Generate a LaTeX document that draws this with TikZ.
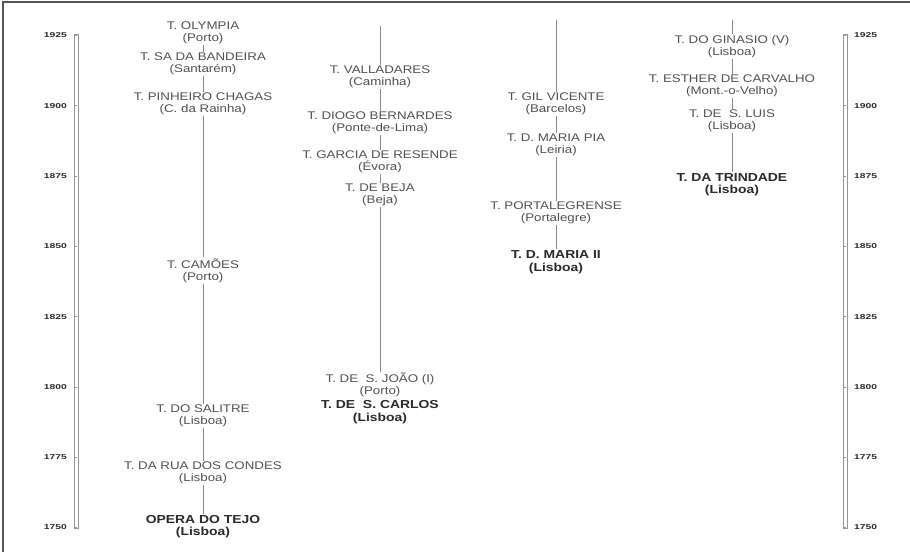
\documentclass[tikz,border=0pt]{standalone}
\usepackage{fontspec}
\setmainfont[FakeStretch=1.2]{Liberation Sans}
\newfontfamily\anofont[FakeStretch=1.45]{Liberation Sans}
\definecolor{txt}{HTML}{505050}
\definecolor{bld}{HTML}{2A2A2A}
\definecolor{ln}{HTML}{8A8A8A}
\definecolor{frm}{HTML}{555555}
\tikzset{
  teatro/.style={align=center, inner sep=1.2pt, text=txt, font=\fontsize{11.1}{12}\selectfont},
  principal/.style={align=center, inner sep=1.2pt, text=bld, font=\fontsize{11.6}{12.5}\selectfont\bfseries},
  ano/.style={inner sep=0pt, text=bld, font=\anofont\fontsize{7.1}{8}\selectfont\bfseries},
  linha/.style={draw=ln, line width=0.8pt},
  barra/.style={draw=ln!90, line width=0.6pt},
  moldura/.style={draw=frm, line width=1.4pt}
}
\begin{document}
\begin{tikzpicture}[x=1pt,y=-1pt]
\useasboundingbox (0,0) rectangle (910,552);
% frame
\coordinate (f0) at (3,552);
\coordinate (f1) at (3,2);
\coordinate (f2) at (910,2);
\draw[moldura] (f0) -- (f1) -- (f2);
% scale bars
\node[barra, draw, minimum width=4pt, minimum height=493.5pt, inner sep=0pt] (barL) at (76.5,281.25) {};
\node[barra, draw, minimum width=4pt, minimum height=493.5pt, inner sep=0pt] (barR) at (845.5,281.25) {};
\foreach \yr [count=\i from 0] in {1750,1775,1800,1825,1850,1875,1900,1925} {
  \pgfmathsetmacro{\yy}{527.5-\i*70.3}
  \node[ano, anchor=east] (L\yr) at (67,\yy) {\yr};
  \node[ano, anchor=west] (R\yr) at (854,\yy) {\yr};
  \coordinate (lt\i) at (74.5,\yy);
  \coordinate (rt\i) at (843.5,\yy);
  \draw[barra] (lt\i) -- ++(2,0);
  \draw[barra] (rt\i) -- ++(2,0);
}
% column 1
\node[teatro] (olympia) at (203,33) {T. OLYMPIA\\(Porto)};
\node[teatro] (sa) at (203,64) {T. SA DA BANDEIRA\\(Santarém)};
\node[teatro] (pinheiro) at (203,104) {T. PINHEIRO CHAGAS\\(C. da Rainha)};
\node[teatro] (camoes) at (203,270.5) {T. CAMÕES\\(Porto)};
\node[teatro] (salitre) at (203,416) {T. DO SALITRE\\(Lisboa)};
\node[teatro] (condes) at (203,473) {T. DA RUA DOS CONDES\\(Lisboa)};
\node[principal] (tejo) at (203,526.5) {OPERA DO TEJO\\(Lisboa)};
\draw[linha] (olympia) -- (sa);
\draw[linha] (sa) -- (pinheiro);
\draw[linha] (pinheiro) -- (camoes);
\draw[linha] (camoes) -- (salitre);
\draw[linha] (salitre) -- (condes);
\draw[linha] (condes) -- (tejo);
% column 2
\coordinate (top2) at (380,26);
\node[teatro] (valladares) at (380,77) {T. VALLADARES\\(Caminha)};
\node[teatro] (diogo) at (380,123) {T. DIOGO BERNARDES\\(Ponte-de-Lima)};
\node[teatro] (garcia) at (380,162) {T. GARCIA DE RESENDE\\(Évora)};
\node[teatro] (beja) at (380,195) {T. DE BEJA\\(Beja)};
\node[teatro] (joao) at (380,385) {T. DE\ \ S. JOÃO (I)\\(Porto)};
\node[principal] (carlos) at (380,412) {T. DE\ \ S. CARLOS\\(Lisboa)};
\draw[linha] (top2) -- (valladares);
\draw[linha] (valladares) -- (diogo);
\draw[linha] (diogo) -- (garcia);
\draw[linha] (garcia) -- (beja);
\draw[linha] (beja) -- (joao);
% column 3
\coordinate (top3) at (556,19.5);
\node[teatro] (gil) at (556,104) {T. GIL VICENTE\\(Barcelos)};
\node[teatro] (pia) at (556,145) {T. D. MARIA PIA\\(Leiria)};
\node[teatro] (portalegre) at (556,213) {T. PORTALEGRENSE\\(Portalegre)};
\node[principal] (maria) at (556,262) {T. D. MARIA II\\(Lisboa)};
\draw[linha] (top3) -- (gil);
\draw[linha] (gil) -- (pia);
\draw[linha] (pia) -- (portalegre);
\draw[linha] (portalegre) -- (maria);
% column 4
\coordinate (top4) at (732,19.5);
\node[teatro] (ginasio) at (732,46.5) {T. DO GINASIO (V)\\(Lisboa)};
\node[teatro] (esther) at (732,86) {T. ESTHER DE CARVALHO\\(Mont.-o-Velho)};
\node[teatro] (luis) at (732,121) {T. DE\ \ S. LUIS\\(Lisboa)};
\node[principal] (trindade) at (732,184.5) {T. DA TRINDADE\\(Lisboa)};
\draw[linha] (top4) -- (ginasio);
\draw[linha] (ginasio) -- (esther);
\draw[linha] (esther) -- (luis);
\draw[linha] (luis) -- (trindade);
\end{tikzpicture}
\end{document}
